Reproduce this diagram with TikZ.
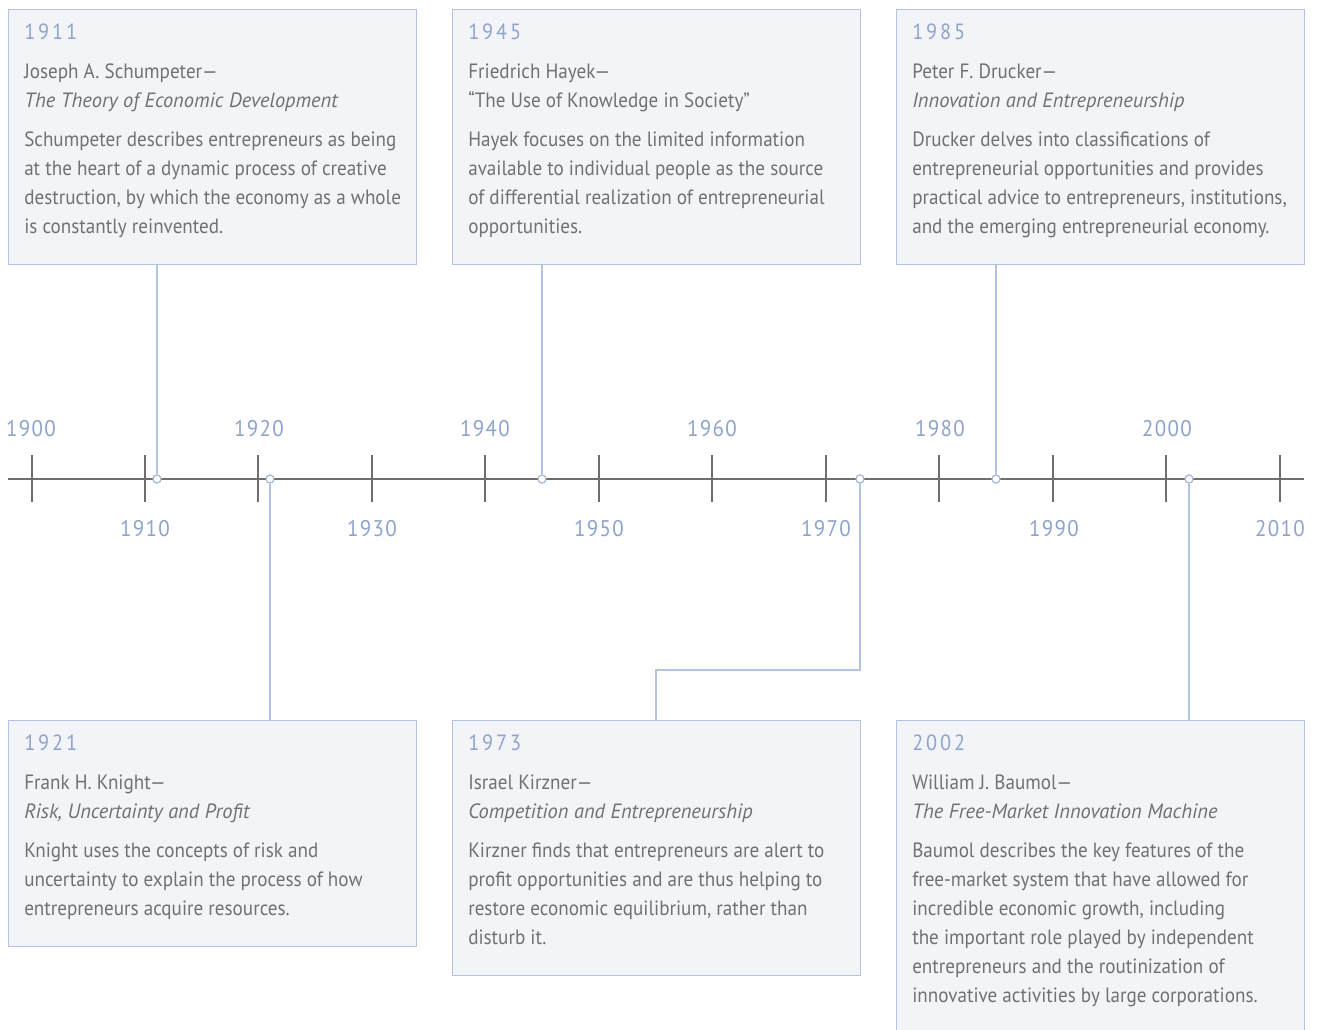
\documentclass[tikz,border=0pt]{standalone}
\usepackage{fontspec}
\setmainfont{PT Sans}[FakeStretch=0.925, ItalicFeatures={FakeStretch=0.99}]
\definecolor{cardfill}{HTML}{F3F4F8}
\definecolor{cardline}{HTML}{B3C3E0}
\definecolor{yearblue}{HTML}{8EA4CC}
\definecolor{bodygray}{HTML}{707174}
\definecolor{axisgray}{HTML}{6E6E6E}
\newcommand\cardyear[1]{{\color{yearblue}\fontsize{16.5pt}{21.75pt}\selectfont\addfontfeatures{LetterSpace=13}#1}}
\tikzset{
  card/.style={draw=cardline, fill=cardfill, line width=1pt, anchor=north west,
    minimum width=306pt, inner sep=0pt},
  cardtext/.style={anchor=north west, inner sep=0pt, align=left, text=bodygray,
    font=\fontsize{15.5pt}{21.75pt}\selectfont},
  link/.style={draw=cardline, line width=1.4pt},
  tickyear/.style={text=yearblue, inner sep=0pt,
    font=\fontsize{17pt}{18pt}\selectfont\addfontfeatures{LetterSpace=6}},
  marker/.style={circle, draw=yearblue!80, fill=white, line width=0.8pt,
    minimum size=6pt, inner sep=0pt}
}

\begin{document}
\begin{tikzpicture}[x=0.75pt, y=-0.75pt]
\useasboundingbox[fill=white] (0,0) rectangle (1320,1030);
\node[card, minimum height=191.25pt] (c1911) at (8,9) {};
\node[card, minimum height=191.25pt] (c1945) at (452,9) {};
\node[card, minimum height=191.25pt] (c1985) at (896,9) {};
\node[card, minimum height=169.5pt] (c1921) at (8,720) {};
\node[card, minimum height=191.25pt] (c1973) at (452,720) {};
\node[card, minimum height=240pt] (c2002) at (896,720) {};
\node[cardtext] (t1911) at ([xshift=12pt,yshift=-11.2pt]c1911.north west) {\cardyear{1911}\\[7.5pt]
  Joseph A. Schumpeter—\\ \textit{The Theory of Economic Development}\\[7.5pt]
  Schumpeter describes entrepreneurs as being\\ at the heart of a dynamic process of creative\\
  destruction, by which the economy as a whole\\ is constantly reinvented.};
\node[cardtext] (t1945) at ([xshift=12pt,yshift=-11.2pt]c1945.north west) {\cardyear{1945}\\[7.5pt]
  Friedrich Hayek—\\ “The Use of Knowledge in Society”\\[7.5pt]
  Hayek focuses on the limited information\\ available to individual people as the source\\
  of differential realization of entrepreneurial\\ opportunities.};
\node[cardtext] (t1985) at ([xshift=12pt,yshift=-11.2pt]c1985.north west) {\cardyear{1985}\\[7.5pt]
  Peter F. Drucker—\\ \textit{Innovation and Entrepreneurship}\\[7.5pt]
  Drucker delves into classifications of\\ entrepreneurial opportunities and provides\\
  practical advice to entrepreneurs, institutions,\\ and the emerging entrepreneurial economy.};
\node[cardtext] (t1921) at ([xshift=12pt,yshift=-11.2pt]c1921.north west) {\cardyear{1921}\\[7.5pt]
  Frank H. Knight—\\ \textit{Risk, Uncertainty and Profit}\\[7.5pt]
  Knight uses the concepts of risk and\\ uncertainty to explain the process of how\\
  entrepreneurs acquire resources.};
\node[cardtext] (t1973) at ([xshift=12pt,yshift=-11.2pt]c1973.north west) {\cardyear{1973}\\[7.5pt]
  Israel Kirzner—\\ \textit{Competition and Entrepreneurship}\\[7.5pt]
  Kirzner finds that entrepreneurs are alert to\\ profit opportunities and are thus helping to\\
  restore economic equilibrium, rather than\\ disturb it.};
\node[cardtext] (t2002) at ([xshift=12pt,yshift=-11.2pt]c2002.north west) {\cardyear{2002}\\[7.5pt]
  William J. Baumol—\\ \textit{The Free-Market Innovation Machine}\\[7.5pt]
  Baumol describes the key features of the\\ free-market system that have allowed for\\
  incredible economic growth, including\\ the important role played by independent\\
  entrepreneurs and the routinization of\\ innovative activities by large corporations.};
\node[marker] (m1911) at (157,479) {};
\node[marker] (m1921) at (270,479) {};
\node[marker] (m1945) at (542,479) {};
\node[marker] (m1973) at (860,479) {};
\node[marker] (m1985) at (996,479) {};
\node[marker] (m2002) at (1189,479) {};
\coordinate (k1973) at (656,670);
\draw[link] (c1911.south -| m1911) -- (m1911);
\draw[link] (m1921) -- (m1921 |- c1921.north);
\draw[link] (c1945.south -| m1945) -- (m1945);
\draw[link] (m1973) |- (k1973) -- (k1973 |- c1973.north);
\draw[link] (c1985.south -| m1985) -- (m1985);
\draw[link] (m2002) -- (m2002 |- c2002.north);
\draw[axisgray, line width=2.2pt] (8,479) -- (1304,479);
\draw[axisgray, line width=1.3pt] (32,455) -- (32,502);
\draw[axisgray, line width=1.3pt] (145,455) -- (145,502);
\draw[axisgray, line width=1.3pt] (258,455) -- (258,502);
\draw[axisgray, line width=1.3pt] (372,455) -- (372,502);
\draw[axisgray, line width=1.3pt] (485,455) -- (485,502);
\draw[axisgray, line width=1.3pt] (599,455) -- (599,502);
\draw[axisgray, line width=1.3pt] (712,455) -- (712,502);
\draw[axisgray, line width=1.3pt] (826,455) -- (826,502);
\draw[axisgray, line width=1.3pt] (939,455) -- (939,502);
\draw[axisgray, line width=1.3pt] (1053,455) -- (1053,502);
\draw[axisgray, line width=1.3pt] (1166,455) -- (1166,502);
\draw[axisgray, line width=1.3pt] (1280,455) -- (1280,502);
\node[marker] at (m1911) {};
\node[marker] at (m1921) {};
\node[marker] at (m1945) {};
\node[marker] at (m1973) {};
\node[marker] at (m1985) {};
\node[marker] at (m2002) {};
\node[tickyear] (y1900) at (31,429) {1900};
\node[tickyear] (y1910) at (145,529) {1910};
\node[tickyear] (y1920) at (259,429) {1920};
\node[tickyear] (y1930) at (372,529) {1930};
\node[tickyear] (y1940) at (485,429) {1940};
\node[tickyear] (y1950) at (599,529) {1950};
\node[tickyear] (y1960) at (712,429) {1960};
\node[tickyear] (y1970) at (826,529) {1970};
\node[tickyear] (y1980) at (940,429) {1980};
\node[tickyear] (y1990) at (1054,529) {1990};
\node[tickyear] (y2000) at (1167,429) {2000};
\node[tickyear] (y2010) at (1280,529) {2010};
\end{tikzpicture}
\end{document}
